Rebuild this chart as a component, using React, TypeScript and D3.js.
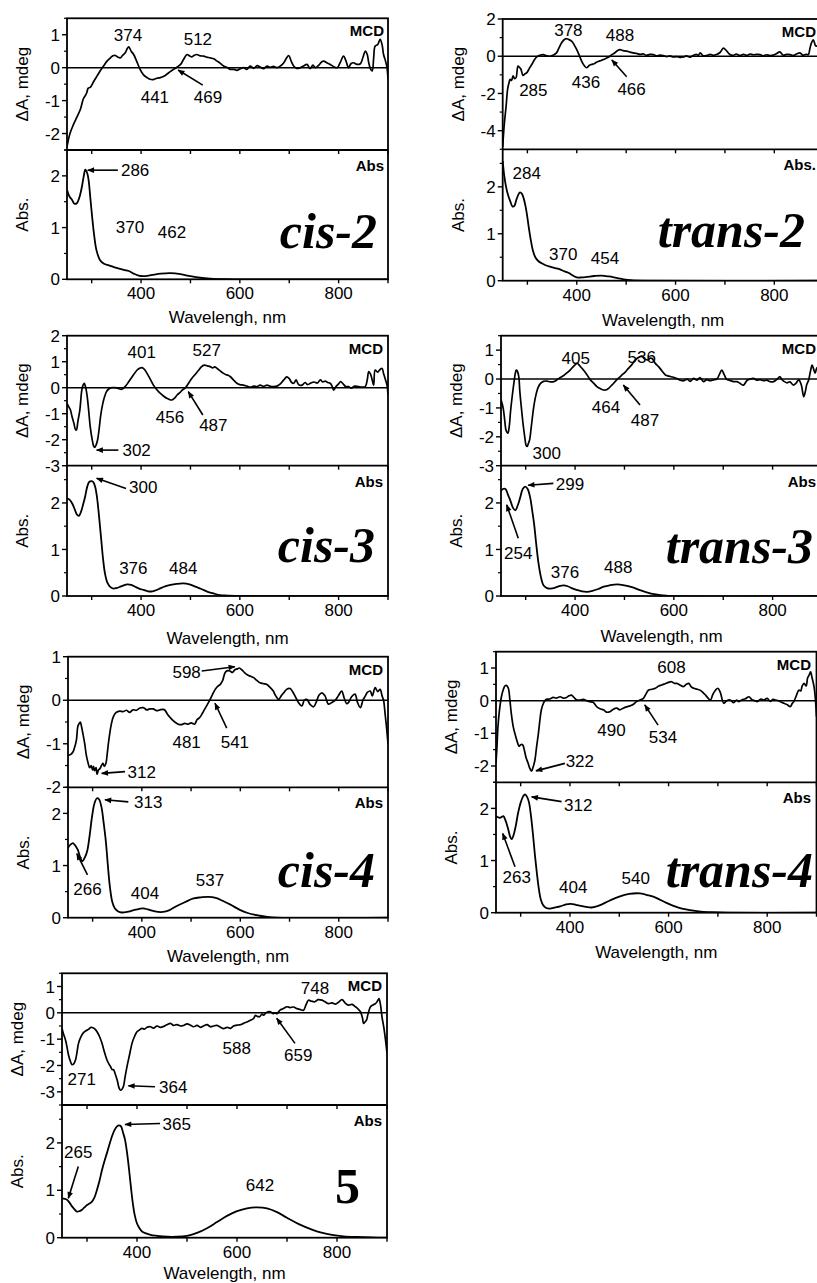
import React from 'react';
import * as d3 from 'd3';

type Pt = [number, number];
type Note = { t: string; nm: number; v: number; part: 'm' | 'a'; arrow?: [number, number, number, number] };

// ---- spectra: [wavelength nm, value] ----
const cis2Mcd: Pt[] = [[250,-2.4],[256,-2.0],[263,-1.73],[270,-1.5],[277,-1.27],[283,-0.95],[287,-0.85],[290,-0.76],[293,-0.62],[297,-0.6],[304,-0.42],[311,-0.25],[318,-0.08],[324,0.05],[331,0.2],[338,0.3],[343,0.36],[348,0.37],[353,0.32],[358,0.3],[363,0.38],[368,0.45],[372,0.58],[375,0.63],[380,0.5],[385,0.4],[391,0.2],[398,-0.05],[405,-0.22],[412,-0.3],[418,-0.35],[425,-0.36],[432,-0.32],[439,-0.3],[446,-0.26],[452,-0.2],[459,-0.12],[466,-0.05],[473,0.02],[480,0.1],[486,0.25],[493,0.4],[498,0.36],[503,0.33],[508,0.38],[513,0.4],[520,0.36],[527,0.35],[533,0.32],[540,0.3],[547,0.27],[554,0.2],[560,0.14],[567,0.05],[575,0],[581,-0.05],[588,-0.05],[594,-0.08],[601,-0.03],[608,0],[614,-0.05],[621,0.05],[628,-0.02],[635,0.06],[641,0.02],[648,-0.03],[655,0.05],[662,0.01],[668,0.04],[675,0],[682,0.05],[689,0.15],[694,0.28],[699,0.37],[704,0.2],[709,0.05],[715,-0.02],[722,0],[729,0.05],[736,0.1],[742,-0.03],[748,0.08],[753,0],[760,0.08],[766,0.18],[770,0.2],[776,0.15],[783,0.1],[790,0.03],[797,0],[803,0.15],[810,0.35],[815,0.2],[820,0],[825,0.12],[830,0.15],[837,0.1],[844,0.12],[849,0.3],[854,0.5],[858,0.4],[861,0.15],[865,-0.05],[868,-0.1],[871,0.3],[874,0.66],[879,0.7],[884,0.86],[888,0.7],[891,0.4],[895,0.2],[898,0],[900,-0.35]];
const cis2Abs: Pt[] = [[250,1.73],[255,1.6],[260,1.54],[265,1.46],[270,1.47],[275,1.58],[280,1.78],[284,2.0],[287,2.12],[291,2.05],[294,1.9],[297,1.6],[301,1.2],[305,0.85],[310,0.55],[317,0.37],[325,0.3],[335,0.27],[350,0.22],[365,0.18],[375,0.16],[385,0.11],[395,0.07],[405,0.06],[420,0.08],[440,0.11],[460,0.12],[480,0.1],[500,0.06],[520,0.03],[540,0.015],[570,0.005],[620,0],[900,0]];

const trans2Mcd: Pt[] = [[250,-4.87],[253,-3.72],[257,-2.65],[260,-1.77],[263,-1.4],[265,-1.24],[268,-1.3],[271,-1.06],[274,-1.2],[277,-1.15],[281,-0.53],[284,-0.6],[287,-0.7],[291,-1.03],[295,-0.95],[299,-0.88],[304,-0.65],[309,-0.44],[314,-0.2],[319,-0.04],[325,0.05],[332,0.09],[339,0.02],[346,0],[352,0.05],[359,0.18],[364,0.45],[369,0.71],[375,0.9],[380,0.94],[385,0.88],[390,0.8],[395,0.6],[400,0.35],[405,0.05],[410,-0.27],[415,-0.5],[420,-0.62],[425,-0.5],[430,-0.44],[435,-0.4],[440,-0.32],[447,-0.25],[454,-0.18],[460,-0.1],[467,0],[472,0.1],[477,0.18],[482,0.3],[488,0.35],[494,0.3],[501,0.27],[508,0.22],[514,0.18],[521,0.15],[528,0.1],[535,0.12],[541,0.05],[548,0.1],[555,0.09],[562,0.02],[568,0.06],[575,0.04],[582,-0.02],[589,0.02],[595,-0.04],[602,-0.02],[609,-0.06],[616,-0.04],[622,0.02],[629,-0.05],[636,0.04],[642,0.1],[646,0.05],[650,0.18],[656,0.02],[663,0.04],[670,0.1],[676,0.05],[683,0.09],[690,0.2],[697,0.44],[703,0.3],[710,0.09],[717,0.05],[723,0.12],[730,0.04],[737,0.1],[744,0.05],[751,0.12],[757,0.08],[764,0.1],[771,0.09],[778,0.02],[784,0.08],[791,0.04],[798,0.06],[805,0.15],[811,0.23],[818,0.05],[825,0.1],[832,0.09],[838,0.04],[845,0.12],[852,0.18],[858,0.05],[864,0.1],[869,0.09],[872,0.4],[875,0.7],[879,0.88],[884,0.55],[888,0.6],[893,0.9],[897,0.6],[900,0.3]];
const trans2Abs: Pt[] = [[250,2.55],[253,2.25],[257,1.99],[261,1.82],[265,1.7],[270,1.58],[274,1.6],[277,1.7],[281,1.82],[285,1.88],[289,1.85],[292,1.77],[296,1.6],[299,1.42],[303,1.12],[307,0.86],[311,0.65],[316,0.5],[322,0.42],[329,0.37],[337,0.33],[346,0.3],[356,0.27],[366,0.24],[375,0.2],[383,0.17],[392,0.11],[400,0.07],[410,0.07],[420,0.08],[435,0.1],[450,0.11],[465,0.09],[480,0.06],[495,0.03],[510,0.01],[535,0],[900,0]];

const cis3Mcd: Pt[] = [[250,-0.6],[254,-0.75],[257,-0.86],[260,-1.1],[264,-1.37],[267,-1.6],[269,-1.63],[272,-1.3],[276,-0.86],[280,-0.09],[283,0.12],[285,0.17],[288,0],[291,-0.35],[294,-0.9],[297,-1.5],[301,-2.0],[304,-2.25],[306,-2.3],[309,-2.2],[312,-2.0],[315,-1.6],[318,-1.1],[322,-0.65],[326,-0.35],[330,-0.15],[334,-0.06],[341,0],[348,0],[355,-0.04],[361,-0.06],[368,0.05],[375,0.23],[383,0.45],[392,0.68],[397,0.75],[402,0.77],[407,0.7],[412,0.55],[418,0.35],[425,0.1],[432,-0.08],[439,-0.22],[446,-0.33],[452,-0.41],[458,-0.46],[463,-0.47],[468,-0.4],[473,-0.28],[479,-0.18],[484,-0.08],[490,0],[496,0.17],[503,0.36],[510,0.52],[517,0.68],[522,0.8],[528,0.87],[534,0.84],[540,0.81],[545,0.76],[549,0.8],[554,0.74],[560,0.65],[567,0.55],[572,0.5],[576,0.48],[581,0.42],[587,0.3],[594,0.17],[600,0.12],[607,0.1],[614,0.06],[621,0.02],[628,0.06],[635,0.04],[641,0.1],[648,0.05],[655,0.1],[662,0.05],[669,0.04],[675,0.06],[682,0.15],[689,0.3],[695,0.42],[700,0.35],[705,0.2],[709,0.17],[714,0.3],[719,0.12],[726,0.1],[732,0.2],[737,0.12],[743,0.17],[750,0.22],[757,0.18],[763,0.3],[768,0.22],[773,0.25],[778,0.2],[783,0.17],[787,0.05],[790,-0.09],[795,0.05],[800,0.15],[804,0.23],[809,0.15],[814,0.05],[820,0.04],[826,-0.02],[832,0.06],[840,0.04],[847,0.02],[854,0.04],[858,0.3],[861,0.62],[865,0.5],[868,0.3],[871,0.1],[874,0.68],[879,0.6],[884,0.7],[888,0.74],[891,0.55],[895,0.3],[898,0.1],[900,-0.28]];
const cis3Abs: Pt[] = [[250,2.1],[255,2.07],[260,2.0],[265,1.88],[270,1.75],[274,1.72],[278,1.8],[283,1.98],[287,2.15],[291,2.35],[295,2.45],[299,2.47],[303,2.45],[307,2.35],[311,2.1],[315,1.7],[319,1.25],[323,0.8],[327,0.48],[332,0.28],[338,0.19],[344,0.16],[350,0.17],[358,0.2],[365,0.23],[372,0.25],[380,0.24],[388,0.2],[396,0.16],[405,0.13],[414,0.1],[423,0.1],[432,0.13],[440,0.17],[450,0.21],[460,0.24],[472,0.26],[485,0.27],[498,0.25],[510,0.2],[522,0.15],[535,0.09],[548,0.05],[560,0.02],[575,0.01],[600,0],[900,0]];

const trans3Mcd: Pt[] = [[250,-0.72],[253,-0.9],[255,-1.07],[258,-1.5],[260,-1.76],[264,-1.87],[267,-1.6],[269,-1.18],[272,-0.7],[276,-0.15],[279,0.2],[281,0.31],[283,0.28],[286,0.08],[288,-0.4],[291,-0.95],[295,-1.6],[298,-1.99],[301,-2.3],[303,-2.33],[305,-2.25],[308,-2.1],[311,-1.7],[313,-1.41],[316,-1.0],[320,-0.61],[325,-0.3],[330,-0.15],[336,-0.08],[343,-0.07],[350,-0.1],[357,-0.09],[364,-0.02],[370,0.05],[377,0.12],[384,0.22],[390,0.31],[397,0.44],[404,0.54],[410,0.45],[417,0.31],[424,0.15],[431,-0.03],[438,-0.15],[444,-0.26],[451,-0.33],[458,-0.38],[464,-0.37],[468,-0.32],[475,-0.2],[481,-0.09],[488,0.03],[495,0.14],[502,0.25],[508,0.37],[515,0.5],[522,0.66],[529,0.75],[535,0.79],[541,0.7],[547,0.66],[552,0.72],[556,0.71],[562,0.55],[569,0.43],[576,0.28],[583,0.14],[590,0.1],[599,0.06],[606,0.02],[613,-0.04],[620,-0.06],[627,0],[633,-0.08],[640,0.02],[647,-0.04],[653,0.05],[660,-0.09],[667,-0.02],[673,-0.06],[680,-0.03],[687,0],[692,0.15],[697,0.31],[702,0.15],[707,-0.01],[714,-0.05],[721,-0.09],[728,-0.09],[734,-0.15],[741,-0.21],[748,-0.05],[755,0],[761,0.02],[768,-0.04],[775,-0.02],[782,-0.06],[788,-0.04],[795,-0.09],[802,-0.09],[808,-0.02],[815,0.08],[818,0],[823,-0.08],[829,-0.13],[835,-0.1],[842,-0.21],[847,-0.15],[853,-0.03],[858,-0.2],[863,-0.61],[866,-0.45],[869,-0.2],[873,-0.03],[877,0.3],[880,0.48],[883,0.35],[886,0.2],[890,0.4],[895,0.3],[900,0.05]];
const trans3Abs: Pt[] = [[250,2.26],[254,2.3],[259,2.3],[264,2.18],[269,2.05],[274,1.9],[279,1.84],[284,1.95],[289,2.12],[294,2.3],[299,2.35],[304,2.3],[309,2.12],[313,1.85],[317,1.55],[321,1.15],[326,0.7],[331,0.4],[336,0.23],[343,0.17],[350,0.16],[360,0.18],[370,0.22],[377,0.23],[385,0.21],[393,0.17],[403,0.13],[414,0.1],[424,0.09],[435,0.11],[447,0.15],[458,0.2],[470,0.23],[485,0.25],[500,0.23],[515,0.19],[530,0.13],[545,0.08],[560,0.04],[575,0.02],[589,0],[900,0]];

const cis4Mcd: Pt[] = [[250,-1.27],[255,-1.25],[260,-1.19],[263,-1.1],[267,-0.92],[270,-0.6],[272,-0.55],[275,-0.5],[277,-0.58],[280,-0.75],[284,-1.0],[287,-1.25],[291,-1.45],[294,-1.55],[297,-1.5],[300,-1.6],[302,-1.52],[304,-1.62],[307,-1.55],[309,-1.7],[312,-1.6],[315,-1.57],[318,-1.5],[321,-1.45],[324,-1.52],[327,-1.45],[330,-1.2],[332,-1.0],[335,-0.75],[338,-0.55],[342,-0.38],[348,-0.28],[355,-0.25],[362,-0.26],[369,-0.23],[375,-0.28],[382,-0.22],[389,-0.23],[396,-0.18],[403,-0.17],[410,-0.22],[416,-0.2],[423,-0.2],[430,-0.24],[437,-0.22],[443,-0.21],[447,-0.23],[452,-0.32],[457,-0.39],[462,-0.45],[467,-0.5],[474,-0.55],[481,-0.56],[487,-0.53],[494,-0.55],[500,-0.52],[507,-0.55],[512,-0.45],[518,-0.39],[523,-0.3],[528,-0.2],[533,-0.1],[538,0],[543,0.12],[549,0.25],[554,0.32],[559,0.36],[564,0.45],[569,0.63],[574,0.68],[579,0.67],[584,0.64],[589,0.7],[594,0.72],[598,0.74],[603,0.7],[609,0.63],[615,0.58],[621,0.55],[627,0.52],[633,0.46],[640,0.4],[647,0.38],[654,0.36],[660,0.3],[667,0.21],[672,0.1],[678,0.02],[683,0.1],[688,0.17],[694,0.25],[701,0.27],[706,0.2],[711,0.1],[718,-0.05],[725,-0.13],[730,0],[735,0.02],[742,-0.1],[749,-0.15],[755,-0.02],[760,0.12],[766,0.17],[772,0.1],[779,-0.09],[786,-0.05],[793,0],[799,0.1],[806,0.21],[811,0.05],[816,-0.08],[820,-0.05],[826,0.08],[833,0.14],[838,-0.05],[844,-0.17],[849,0],[854,0.1],[858,0.18],[864,0.21],[868,0.1],[874,0.29],[879,0.2],[884,0.25],[888,0.1],[891,0],[894,-0.3],[897,-0.62],[900,-1.0]];
const cis4Abs: Pt[] = [[250,1.34],[255,1.4],[260,1.43],[265,1.38],[270,1.3],[275,1.15],[279,1.08],[284,1.15],[289,1.28],[294,1.58],[299,1.95],[304,2.2],[309,2.29],[313,2.27],[318,2.12],[322,1.85],[327,1.45],[331,1.0],[335,0.6],[340,0.3],[345,0.18],[352,0.12],[359,0.1],[370,0.11],[382,0.14],[395,0.17],[403,0.18],[412,0.16],[423,0.13],[433,0.11],[443,0.11],[455,0.14],[470,0.22],[488,0.3],[505,0.37],[520,0.39],[535,0.4],[550,0.38],[565,0.32],[580,0.25],[599,0.15],[615,0.09],[633,0.05],[652,0.02],[674,0],[900,0]];

const trans4Mcd: Pt[] = [[250,-1.91],[252,-1.4],[254,-0.79],[257,-0.3],[261,0.12],[265,0.35],[268,0.45],[271,0.47],[275,0.38],[278,0.05],[281,-0.39],[285,-0.8],[290,-1.1],[294,-1.3],[297,-1.4],[300,-1.35],[304,-1.35],[308,-1.55],[311,-1.75],[315,-1.91],[318,-2.05],[322,-2.16],[325,-2.05],[329,-1.81],[332,-1.45],[336,-1.0],[339,-0.6],[342,-0.28],[347,-0.05],[352,0.04],[359,0.05],[366,0.1],[372,0.08],[380,0.12],[387,0.08],[393,0.1],[398,0.15],[403,0.17],[408,0.1],[414,0.02],[420,0.02],[427,0.04],[434,0],[440,-0.03],[447,-0.05],[454,-0.18],[461,-0.25],[468,-0.28],[474,-0.35],[481,-0.34],[488,-0.26],[495,-0.23],[501,-0.28],[508,-0.23],[515,-0.19],[522,-0.16],[528,-0.12],[535,-0.03],[542,0.02],[549,0.07],[554,0.2],[559,0.32],[566,0.35],[573,0.38],[580,0.45],[586,0.48],[593,0.52],[600,0.56],[606,0.58],[612,0.53],[617,0.53],[624,0.47],[630,0.43],[636,0.5],[641,0.53],[646,0.42],[651,0.38],[658,0.35],[664,0.32],[670,0.25],[675,0.17],[680,0.08],[685,0.02],[690,0.2],[695,0.32],[700,0.38],[705,0.25],[712,-0.08],[718,0],[725,0.02],[732,-0.06],[738,0.02],[742,-0.03],[749,0.03],[756,0.06],[763,0.12],[769,0.03],[775,0],[780,-0.03],[787,0.05],[793,0.02],[800,0.07],[806,-0.02],[812,0.04],[817,0.02],[823,0],[829,-0.05],[834,-0.08],[840,-0.12],[847,-0.18],[851,-0.08],[854,-0.03],[859,0.15],[864,0.32],[868,0.3],[871,0.45],[875,0.53],[879,0.45],[882,0.7],[885,0.78],[888,0.88],[891,0.7],[895,0.43],[898,0],[900,-0.49]];
const trans4Abs: Pt[] = [[250,1.85],[254,1.83],[258,1.82],[262,1.84],[265,1.85],[270,1.75],[275,1.59],[279,1.45],[282,1.41],[286,1.5],[290,1.66],[295,1.92],[300,2.11],[305,2.23],[309,2.27],[313,2.22],[317,2.11],[321,1.85],[325,1.5],[329,1.1],[333,0.75],[337,0.45],[341,0.25],[346,0.14],[352,0.09],[359,0.08],[370,0.1],[380,0.12],[392,0.16],[402,0.17],[412,0.15],[422,0.13],[433,0.11],[444,0.1],[460,0.14],[480,0.23],[500,0.31],[520,0.36],[542,0.37],[560,0.33],[576,0.28],[593,0.2],[610,0.13],[627,0.08],[644,0.05],[665,0.02],[685,0.01],[720,0],[900,0]];

const c5Mcd: Pt[] = [[250,-0.59],[253,-0.8],[257,-1.03],[260,-1.3],[263,-1.6],[267,-1.85],[270,-1.97],[273,-1.95],[277,-1.79],[280,-1.5],[283,-1.16],[288,-0.9],[293,-0.75],[298,-0.68],[303,-0.63],[308,-0.55],[312,-0.57],[316,-0.62],[320,-0.72],[325,-0.9],[330,-1.16],[335,-1.5],[340,-1.79],[344,-1.95],[347,-2.04],[350,-2.15],[353,-2.16],[357,-2.35],[361,-2.6],[364,-2.85],[367,-2.94],[370,-2.9],[373,-2.79],[376,-2.45],[380,-2.04],[385,-1.6],[390,-1.16],[395,-0.9],[400,-0.72],[405,-0.65],[410,-0.59],[415,-0.62],[420,-0.55],[427,-0.53],[433,-0.58],[440,-0.5],[447,-0.55],[453,-0.52],[460,-0.45],[467,-0.4],[473,-0.48],[480,-0.45],[487,-0.5],[493,-0.48],[500,-0.42],[507,-0.47],[513,-0.53],[520,-0.48],[527,-0.55],[533,-0.5],[540,-0.45],[547,-0.53],[553,-0.5],[560,-0.48],[567,-0.55],[573,-0.6],[580,-0.55],[587,-0.59],[593,-0.5],[600,-0.47],[607,-0.45],[613,-0.4],[620,-0.35],[627,-0.28],[633,-0.22],[637,-0.1],[640,-0.13],[645,-0.15],[650,-0.05],[653,-0.09],[658,0],[662,0.04],[667,0.04],[672,-0.03],[676,0],[680,-0.03],[686,0.1],[693,0.16],[700,0.23],[706,0.2],[713,0.22],[720,0.16],[727,0.12],[733,0.1],[738,0.3],[743,0.48],[749,0.44],[756,0.42],[762,0.5],[770,0.48],[776,0.42],[783,0.35],[790,0.38],[797,0.33],[803,0.4],[810,0.5],[816,0.38],[823,0.29],[830,0.32],[837,0.23],[842,0.15],[847,0.04],[851,-0.2],[853,-0.4],[856,-0.35],[859,-0.28],[862,-0.05],[867,0.23],[872,0.3],[877,0.35],[881,0.45],[884,0.54],[887,0.3],[890,-0.15],[894,-0.6],[897,-1.03],[900,-1.53]];
const c5Abs: Pt[] = [[250,0.83],[255,0.82],[260,0.8],[265,0.74],[270,0.66],[275,0.6],[280,0.55],[285,0.56],[290,0.59],[295,0.64],[300,0.69],[305,0.72],[310,0.76],[315,0.85],[320,1.01],[325,1.2],[330,1.43],[335,1.62],[340,1.79],[345,1.97],[350,2.14],[355,2.27],[360,2.35],[364,2.37],[368,2.35],[372,2.22],[376,2.07],[380,1.8],[384,1.45],[388,1.05],[392,0.7],[396,0.45],[400,0.3],[405,0.2],[410,0.13],[418,0.09],[427,0.06],[440,0.04],[460,0.02],[480,0.02],[500,0.04],[520,0.1],[540,0.2],[560,0.33],[580,0.46],[600,0.56],[620,0.62],[640,0.64],[660,0.62],[680,0.54],[700,0.42],[727,0.27],[750,0.17],[767,0.11],[790,0.06],[813,0.03],[840,0.015],[870,0.005],[900,0]];

// ---- peak labels, placed in data units (nm, value) ----
const cis2Notes: Note[] = [
  { t: '374', nm: 373.5, v: 0.99, part: 'm' },
  { t: '512', nm: 515, v: 0.87, part: 'm' },
  { t: '441', nm: 428, v: -0.89, part: 'm' },
  { t: '469', nm: 535.5, v: -0.89, part: 'm', arrow: [525, -0.53, 475, -0.07] },
  { t: '286', nm: 388, v: 2.11, part: 'a', arrow: [353, 2.11, 292, 2.11] },
  { t: '370', nm: 377.6, v: 1.01, part: 'a' },
  { t: '462', nm: 462.6, v: 0.91, part: 'a' },
];
const trans2Notes: Note[] = [
  { t: '378', nm: 383, v: 1.41, part: 'm' },
  { t: '488', nm: 487.5, v: 1.14, part: 'm' },
  { t: '285', nm: 312, v: -1.82, part: 'm' },
  { t: '436', nm: 418.7, v: -1.37, part: 'm' },
  { t: '466', nm: 511, v: -1.78, part: 'm', arrow: [501, -1.1, 471, -0.2] },
  { t: '284', nm: 298.6, v: 2.29, part: 'a' },
  { t: '370', nm: 372.7, v: 0.58, part: 'a' },
  { t: '454', nm: 457.2, v: 0.48, part: 'a' },
];
const cis3Notes: Note[] = [
  { t: '401', nm: 401.3, v: 1.38, part: 'm' },
  { t: '527', nm: 533, v: 1.45, part: 'm' },
  { t: '456', nm: 458.6, v: -1.12, part: 'm' },
  { t: '487', nm: 546.3, v: -1.43, part: 'm', arrow: [525, -1.05, 495.6, -0.15] },
  { t: '302', nm: 391, v: -2.4, part: 'm', arrow: [354, -2.4, 310, -2.4] },
  { t: '300', nm: 404.5, v: 2.35, part: 'a', arrow: [369.5, 2.31, 310, 2.53] },
  { t: '376', nm: 384.3, v: 0.6, part: 'a' },
  { t: '484', nm: 485.5, v: 0.6, part: 'a' },
];
const trans3Notes: Note[] = [
  { t: '405', nm: 401.3, v: 0.72, part: 'm' },
  { t: '536', nm: 535, v: 0.77, part: 'm' },
  { t: '464', nm: 462.6, v: -0.96, part: 'm' },
  { t: '487', nm: 541.6, v: -1.42, part: 'm', arrow: [531.5, -0.9, 497.7, -0.21] },
  { t: '300', nm: 342.5, v: -2.55, part: 'm' },
  { t: '299', nm: 389.7, v: 2.42, part: 'a', arrow: [356, 2.42, 305, 2.38] },
  { t: '254', nm: 285, v: 0.93, part: 'a', arrow: [285, 1.24, 261.5, 1.96] },
  { t: '376', nm: 379.6, v: 0.52, part: 'a' },
  { t: '488', nm: 487.5, v: 0.63, part: 'a' },
];
const cis4Notes: Note[] = [
  { t: '598', nm: 491, v: 0.66, part: 'm', arrow: [521.6, 0.67, 589, 0.77] },
  { t: '481', nm: 491, v: -0.95, part: 'm' },
  { t: '541', nm: 589, v: -0.95, part: 'm', arrow: [572.4, -0.64, 548.6, -0.07] },
  { t: '312', nm: 399.7, v: -1.64, part: 'm', arrow: [365.8, -1.64, 318.5, -1.68] },
  { t: '313', nm: 413, v: 2.22, part: 'a', arrow: [372.5, 2.22, 325, 2.26] },
  { t: '266', nm: 289.6, v: 0.56, part: 'a', arrow: [289.6, 0.82, 268, 1.23] },
  { t: '404', nm: 406.4, v: 0.47, part: 'a' },
  { t: '537', nm: 538.4, v: 0.72, part: 'a' },
];
const trans4Notes: Note[] = [
  { t: '608', nm: 605.8, v: 1.04, part: 'm' },
  { t: '490', nm: 484.3, v: -0.9, part: 'm' },
  { t: '534', nm: 588.8, v: -1.1, part: 'm', arrow: [578.7, -0.75, 551.7, -0.13] },
  { t: '322', nm: 420, v: -1.85, part: 'm', arrow: [389.7, -1.92, 331, -2.15] },
  { t: '312', nm: 416.7, v: 2.06, part: 'a', arrow: [383, 2.13, 322.3, 2.22] },
  { t: '263', nm: 292, v: 0.69, part: 'a', arrow: [288.5, 0.88, 263.6, 1.52] },
  { t: '404', nm: 406.5, v: 0.49, part: 'a' },
  { t: '540', nm: 533.5, v: 0.66, part: 'a' },
];
const c5Notes: Note[] = [
  { t: '748', nm: 756, v: 0.93, part: 'm' },
  { t: '588', nm: 599.4, v: -1.35, part: 'm' },
  { t: '659', nm: 722.6, v: -1.6, part: 'm', arrow: [716, -1.16, 679.4, -0.21] },
  { t: '271', nm: 289.4, v: -2.49, part: 'm' },
  { t: '364', nm: 472.6, v: -2.81, part: 'm', arrow: [436, -2.81, 382.6, -2.77] },
  { t: '365', nm: 479.4, v: 2.41, part: 'a', arrow: [446, 2.41, 376, 2.39] },
  { t: '265', nm: 282.6, v: 1.81, part: 'a', arrow: [282.6, 1.5, 262.6, 0.83] },
  { t: '642', nm: 646, v: 1.11, part: 'a' },
];

const xDomain: [number, number] = [250, 900];
const xMajor = [400, 600, 800];
const xMinor = [300, 500, 700, 900];

interface PanelCfg {
  id: string; name: string; italic: boolean;
  left: number; right: number; top: number; mid: number; bottom: number;
  mcdDomain: [number, number]; mcdTicks: number[]; mcdStep: number;
  absDomain: [number, number]; absTicks: number[];
  mcd: Pt[]; abs: Pt[]; notes: Note[];
  titleX: number; titleY: number; xTitle: string; xTitleY: number; absTag: string; tagRight: number;
}

const panels: PanelCfg[] = [
  { id: 'c2', name: 'cis-2', italic: true, left: 67, right: 388, top: 18.3, mid: 150, bottom: 279.3,
    mcdDomain: [-2.5, 1.5], mcdTicks: [-2, -1, 0, 1], mcdStep: 0.5, absDomain: [0, 2.5], absTicks: [0, 1, 2],
    mcd: cis2Mcd, abs: cis2Abs, notes: cis2Notes, titleX: 377, titleY: 248, xTitle: 'Wavelengh, nm', xTitleY: 323, absTag: 'Abs', tagRight: 384 },
  { id: 't2', name: 'trans-2', italic: true, left: 502.7, right: 823.7, top: 19, mid: 149.3, bottom: 280.7,
    mcdDomain: [-5, 2], mcdTicks: [-4, -2, 0, 2], mcdStep: 1, absDomain: [0, 2.8], absTicks: [0, 1, 2],
    mcd: trans2Mcd, abs: trans2Abs, notes: trans2Notes, titleX: 805, titleY: 247, xTitle: 'Wavelength, nm', xTitleY: 326, absTag: 'Abs.', tagRight: 816 },
  { id: 'c3', name: 'cis-3', italic: true, left: 67, right: 388, top: 335.7, mid: 465.7, bottom: 596,
    mcdDomain: [-3, 2], mcdTicks: [-3, -2, -1, 0, 1, 2], mcdStep: 0.5, absDomain: [0, 2.8], absTicks: [0, 1, 2],
    mcd: cis3Mcd, abs: cis3Abs, notes: cis3Notes, titleX: 375, titleY: 562, xTitle: 'Wavelength, nm', xTitleY: 644, absTag: 'Abs', tagRight: 383 },
  { id: 't3', name: 'trans-3', italic: true, left: 501, right: 822, top: 335.7, mid: 465.7, bottom: 596,
    mcdDomain: [-3, 1.5], mcdTicks: [-3, -2, -1, 0, 1], mcdStep: 0.5, absDomain: [0, 2.8], absTicks: [0, 1, 2],
    mcd: trans3Mcd, abs: trans3Abs, notes: trans3Notes, titleX: 813, titleY: 563, xTitle: 'Wavelength, nm', xTitleY: 642, absTag: 'Abs', tagRight: 816 },
  { id: 'c4', name: 'cis-4', italic: true, left: 68, right: 388, top: 656.7, mid: 787.3, bottom: 917.7,
    mcdDomain: [-2, 1], mcdTicks: [-2, -1, 0, 1], mcdStep: 0.5, absDomain: [0, 2.5], absTicks: [0, 1, 2],
    mcd: cis4Mcd, abs: cis4Abs, notes: cis4Notes, titleX: 375, titleY: 887, xTitle: 'Wavelength, nm', xTitleY: 962, absTag: 'Abs', tagRight: 383 },
  { id: 't4', name: 'trans-4', italic: true, left: 496, right: 816.5, top: 651.7, mid: 782.3, bottom: 912.7,
    mcdDomain: [-2.5, 1.5], mcdTicks: [-2, -1, 0, 1], mcdStep: 0.5, absDomain: [0, 2.5], absTicks: [0, 1, 2],
    mcd: trans4Mcd, abs: trans4Abs, notes: trans4Notes, titleX: 813, titleY: 887, xTitle: 'Wavelength, nm', xTitleY: 958, absTag: 'Abs', tagRight: 811 },
  { id: 'c5', name: '5', italic: false, left: 62, right: 387, top: 973.3, mid: 1105, bottom: 1237.7,
    mcdDomain: [-3.5, 1.5], mcdTicks: [-3, -2, -1, 0, 1], mcdStep: 0.5, absDomain: [0, 2.8], absTicks: [0, 1, 2],
    mcd: c5Mcd, abs: c5Abs, notes: c5Notes, titleX: 360, titleY: 1203, xTitle: 'Wavelength, nm', xTitleY: 1279, absTag: 'Abs', tagRight: 382 },
];

const SANS = '"Liberation Sans", Arial, Helvetica, sans-serif';
const SERIF = '"Liberation Serif", "Times New Roman", serif';
const FS = 17;

function minors(dom: [number, number], step: number, major: number[]) {
  const out: number[] = [];
  for (let v = Math.ceil(dom[0] / step) * step; v <= dom[1] + 1e-9; v += step) {
    const r = Math.round(v * 100) / 100;
    if (!major.some(m => Math.abs(m - r) < 1e-6)) out.push(r);
  }
  return out;
}

function Panel({ p }: { p: PanelCfg }) {
  const x = d3.scaleLinear().domain(xDomain).range([p.left, p.right]);
  const ym = d3.scaleLinear().domain(p.mcdDomain).range([p.mid, p.top]);
  const ya = d3.scaleLinear().domain(p.absDomain).range([p.bottom, p.mid]);
  const mcdLine = d3.line<Pt>().x(d => x(d[0])).y(d => ym(d[1])).curve(d3.curveCatmullRom.alpha(0.5));
  const absLine = d3.line<Pt>().x(d => x(d[0])).y(d => ya(d[1])).curve(d3.curveCatmullRom.alpha(0.5));
  const mMinor = minors(p.mcdDomain, p.mcdStep, p.mcdTicks);
  const aMinor = minors(p.absDomain, 0.5, p.absTicks);
  const sy = (part: 'm' | 'a') => (part === 'm' ? ym : ya);

  return (
    <g>
      <defs>
        <clipPath id={`clip-${p.id}-m`}>
          <rect x={p.left} y={p.top} width={p.right - p.left} height={p.mid - p.top} />
        </clipPath>
        <clipPath id={`clip-${p.id}-a`}>
          <rect x={p.left} y={p.mid} width={p.right - p.left} height={p.bottom - p.mid} />
        </clipPath>
      </defs>

      {/* zero line of the MCD panel */}
      <line x1={p.left} x2={p.right} y1={ym(0)} y2={ym(0)} stroke="#000" strokeWidth={1.6} />

      <path d={mcdLine(p.mcd) || ''} fill="none" stroke="#000" strokeWidth={1.7} clipPath={`url(#clip-${p.id}-m)`} />
      <path d={absLine(p.abs) || ''} fill="none" stroke="#000" strokeWidth={1.8} clipPath={`url(#clip-${p.id}-a)`} />

      {/* frame */}
      <rect x={p.left} y={p.top} width={p.right - p.left} height={p.bottom - p.top} fill="none" stroke="#000" strokeWidth={1.8} />
      <line x1={p.left} x2={p.right} y1={p.mid} y2={p.mid} stroke="#000" strokeWidth={1.8} />

      {/* x ticks */}
      {xMajor.concat(xMinor).map(v => (
        <g key={`xt${v}`}>
          <line x1={x(v)} x2={x(v)} y1={p.bottom} y2={p.bottom + 4} stroke="#000" strokeWidth={1.4} />
          <line x1={x(v)} x2={x(v)} y1={p.mid} y2={p.mid + 4} stroke="#000" strokeWidth={1.4} />
        </g>
      ))}
      {xMajor.map(v => (
        <text key={`xl${v}`} x={x(v)} y={p.bottom + 20} textAnchor="middle" fontSize={FS} fontFamily={SANS}>{v}</text>
      ))}
      <text x={(p.left + p.right) / 2} y={p.xTitleY} textAnchor="middle" fontSize={FS} fontFamily={SANS}>{p.xTitle}</text>

      {/* y ticks, MCD */}
      {p.mcdTicks.map(v => (
        <g key={`ym${v}`}>
          <line x1={p.left - 5} x2={p.left} y1={ym(v)} y2={ym(v)} stroke="#000" strokeWidth={1.4} />
          <text x={p.left - 7} y={ym(v)} dy="0.36em" textAnchor="end" fontSize={FS} fontFamily={SANS}>{v}</text>
        </g>
      ))}
      {mMinor.map(v => (
        <line key={`ymm${v}`} x1={p.left - 3} x2={p.left} y1={ym(v)} y2={ym(v)} stroke="#000" strokeWidth={1.2} />
      ))}
      {/* y ticks, Abs */}
      {p.absTicks.map(v => (
        <g key={`ya${v}`}>
          <line x1={p.left - 5} x2={p.left} y1={ya(v)} y2={ya(v)} stroke="#000" strokeWidth={1.4} />
          <text x={p.left - 7} y={ya(v)} dy="0.36em" textAnchor="end" fontSize={FS} fontFamily={SANS}>{v}</text>
        </g>
      ))}
      {aMinor.map(v => (
        <line key={`yam${v}`} x1={p.left - 3} x2={p.left} y1={ya(v)} y2={ya(v)} stroke="#000" strokeWidth={1.2} />
      ))}

      <text transform={`translate(${p.left - 45},${(p.top + p.mid) / 2}) rotate(-90)`} dy="0.36em" textAnchor="middle" fontSize={FS} fontFamily={SANS}>ΔA, mdeg</text>
      <text transform={`translate(${p.left - 45},${(p.mid + p.bottom) / 2}) rotate(-90)`} dy="0.36em" textAnchor="middle" fontSize={FS} fontFamily={SANS}>Abs.</text>

      <text x={p.tagRight} y={p.top + 18} textAnchor="end" fontSize={15} fontWeight="bold" fontFamily={SANS}>MCD</text>
      <text x={p.tagRight} y={p.mid + 21} textAnchor="end" fontSize={15} fontWeight="bold" fontFamily={SANS}>{p.absTag}</text>

      {p.notes.map((n, i) => (
        <g key={`n${i}`}>
          <text x={x(n.nm)} y={sy(n.part)(n.v)} dy="0.36em" textAnchor="middle" fontSize={FS} fontFamily={SANS}>{n.t}</text>
          {n.arrow && (
            <line x1={x(n.arrow[0])} y1={sy(n.part)(n.arrow[1])} x2={x(n.arrow[2])} y2={sy(n.part)(n.arrow[3])}
              stroke="#000" strokeWidth={1.6} markerEnd="url(#arrowHead)" />
          )}
        </g>
      ))}

      <text x={p.titleX} y={p.titleY} textAnchor="end" fontSize={50} fontWeight="bold"
        fontStyle={p.italic ? 'italic' : 'normal'} fontFamily={SERIF}>{p.name}</text>
    </g>
  );
}

export default function App() {
  return (
    <svg width={817} height={1283} style={{ position: 'absolute', left: 0, top: 0, background: '#fff' }}>
      <defs>
        <marker id="arrowHead" viewBox="0 -5 10 10" refX={9} refY={0} markerWidth={9} markerHeight={7}
          markerUnits="userSpaceOnUse" orient="auto">
          <path d="M0,-4L10,0L0,4Z" fill="#000" />
        </marker>
      </defs>
      <rect x={0} y={0} width={817} height={1283} fill="#fff" />
      {panels.map(p => <Panel key={p.id} p={p} />)}
    </svg>
  );
}
